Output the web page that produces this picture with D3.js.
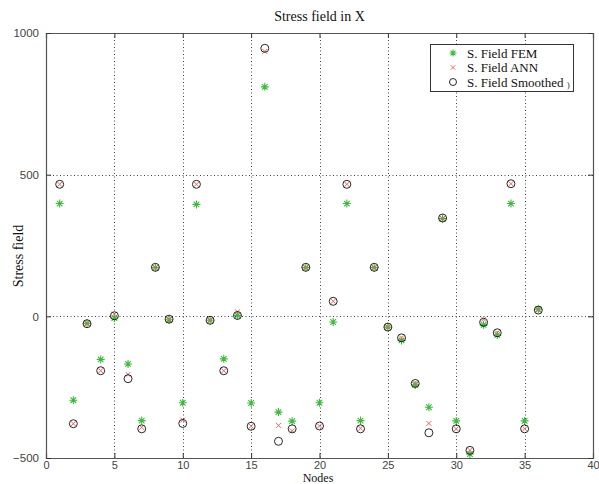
<!DOCTYPE html>
<html><head><meta charset="utf-8">
<script src="https://d3js.org/d3.v7.min.js"></script>
<style>body{margin:0;background:#fff}svg{display:block}</style>
</head><body>
<script>
const nodes = d3.range(1, 37);
const femValues = [398,-296,-25,-152,-6,-168,-368,172,-12,-305,395,-14,-150,3,-306,810,-338,-370,172,-305,-20,398,-368,172,-38,-85,-242,-321,345,-369,-486,-30,-66,398,-369,25];
const annValues = [466,-379,-26,-192,8,-205,-392,172,-10,-366,466,-14,-192,16,-388,935,-385,-404,172,-387,53,466,-395,172,-38,-76,-237,-378,345,-397,-473,-10,-58,468,-397,22];
const smoothValues = [466,-379,-26,-192,2,-220,-397,173,-10,-378,466,-14,-192,3,-388,946,-441,-397,173,-387,53,466,-397,173,-38,-76,-237,-411,347,-397,-473,-21,-58,468,-397,22];
const xTicks = [0,5,10,15,20,25,30,35,40];
const yTicks = [-500,0,500,1000];
const legendLabels = ["S. Field FEM","S. Field ANN","S. Field Smoothed"];

const W = 599, H = 484;
const svg = d3.select("body").append("svg").attr("width", W).attr("height", H);
const x = d3.scaleLinear().domain([0, 40]).range([46, 593]);
const y = d3.scaleLinear().domain([-500, 1000]).range([458, 33]);

const green = "#3fb83f", red = "#f06464";

// grid
const grid = svg.append("g").attr("stroke", "#444").attr("stroke-width", 1).attr("stroke-dasharray", "1,2.5");
grid.selectAll(".gx").data(xTicks.slice(1, -1)).join("line")
  .attr("x1", d => Math.round(x(d)) + 0.5).attr("x2", d => Math.round(x(d)) + 0.5)
  .attr("y1", y(1000)).attr("y2", y(-500));
grid.selectAll(".gy").data(yTicks.slice(1, -1)).join("line")
  .attr("y1", d => Math.round(y(d)) + 0.5).attr("y2", d => Math.round(y(d)) + 0.5)
  .attr("x1", x(0)).attr("x2", x(40));

// axes
const fontAx = "'Liberation Sans', Arial, sans-serif";
const xAxB = svg.append("g").attr("transform", `translate(0,${y(-500)})`)
  .call(d3.axisBottom(x).tickValues(xTicks).tickSize(-5).tickPadding(0).tickFormat(d3.format("d")));
const xAxT = svg.append("g").attr("transform", `translate(0,${y(1000)})`)
  .call(d3.axisTop(x).tickValues(xTicks).tickSize(-5).tickFormat(""));
const yAxL = svg.append("g").attr("transform", `translate(${x(0)},0)`)
  .call(d3.axisLeft(y).tickValues(yTicks).tickSize(-5).tickPadding(8).tickFormat(d3.format("d")));
const yAxR = svg.append("g").attr("transform", `translate(${x(40)},0)`)
  .call(d3.axisRight(y).tickValues(yTicks).tickSize(-5).tickFormat(""));
[xAxB, xAxT, yAxL, yAxR].forEach(g => {
  g.selectAll("path.domain").attr("stroke", "#555").attr("stroke-width", 1.2);
  g.selectAll(".tick line").attr("stroke", "#333");
  g.selectAll("text").attr("font-family", fontAx).attr("font-size", 11.5).attr("fill", "#444");
});
xAxB.selectAll("text").attr("y", 10.5).attr("dy", null).attr("font-size", 11);
yAxL.selectAll("text").attr("dx", "1px");

// markers
function starPath(cx, cy, s) {
  const d = s * 0.7;
  return `M${cx - s},${cy}L${cx + s},${cy}M${cx},${cy - s}L${cx},${cy + s}` +
         `M${cx - d},${cy - d}L${cx + d},${cy + d}M${cx - d},${cy + d}L${cx + d},${cy - d}`;
}
function xPath(cx, cy, s) {
  return `M${cx - s},${cy - s}L${cx + s},${cy + s}M${cx - s},${cy + s}L${cx + s},${cy - s}`;
}

svg.append("g").selectAll("path").data(nodes).join("path")
  .attr("d", (n, i) => starPath(x(n), y(femValues[i]), 4))
  .attr("stroke", green).attr("stroke-width", 1.1).attr("fill", "none");
svg.append("g").selectAll("path").data(nodes).join("path")
  .attr("d", (n, i) => xPath(x(n), y(annValues[i]), 2.5))
  .attr("stroke", red).attr("stroke-width", 1).attr("fill", "none");
svg.append("g").selectAll("circle").data(nodes).join("circle")
  .attr("cx", n => x(n)).attr("cy", (n, i) => y(smoothValues[i])).attr("r", 4)
  .attr("stroke", "#111").attr("stroke-width", 0.9).attr("fill", "none");

// title & labels
const fontSerif = "'Liberation Serif', 'Times New Roman', serif";
svg.append("text").attr("x", 319.5).attr("y", 21).attr("text-anchor", "middle")
  .attr("font-family", fontSerif).attr("font-size", 14).attr("fill", "#111").text("Stress field in X");
svg.append("text").attr("transform", "translate(23,256) rotate(-90)").attr("text-anchor", "middle")
  .attr("font-family", fontSerif).attr("font-size", 14).attr("fill", "#111").text("Stress field");
svg.append("text").attr("x", 318).attr("y", 481.5).attr("text-anchor", "middle")
  .attr("font-family", fontSerif).attr("font-size", 12).attr("fill", "#111").text("Nodes");

// legend
const lg = svg.append("g");
lg.append("rect").attr("x", 430.5).attr("y", 44.5).attr("width", 143).attr("height", 47)
  .attr("fill", "#fff").attr("stroke", "#333").attr("stroke-width", 1);
const ly = [53, 67.5, 82];
lg.append("path").attr("d", starPath(453, ly[0], 3.5)).attr("stroke", green).attr("stroke-width", 1.1).attr("fill", "none");
lg.append("path").attr("d", xPath(453, ly[1], 2.2)).attr("stroke", red).attr("stroke-width", 1).attr("fill", "none");
lg.append("circle").attr("cx", 453).attr("cy", ly[2]).attr("r", 3.5).attr("stroke", "#111").attr("stroke-width", 0.9).attr("fill", "none");
lg.selectAll("text.l").data(legendLabels).join("text")
  .attr("x", 467).attr("y", (d, i) => ly[i] + 4.5)
  .attr("font-family", fontSerif).attr("font-size", 13).attr("fill", "#111").text(d => d);
lg.append("text").attr("x", 567).attr("y", ly[2] + 5.5)
  .attr("font-family", fontSerif).attr("font-size", 8).attr("fill", "#111").text(")");
</script>
</body></html>
